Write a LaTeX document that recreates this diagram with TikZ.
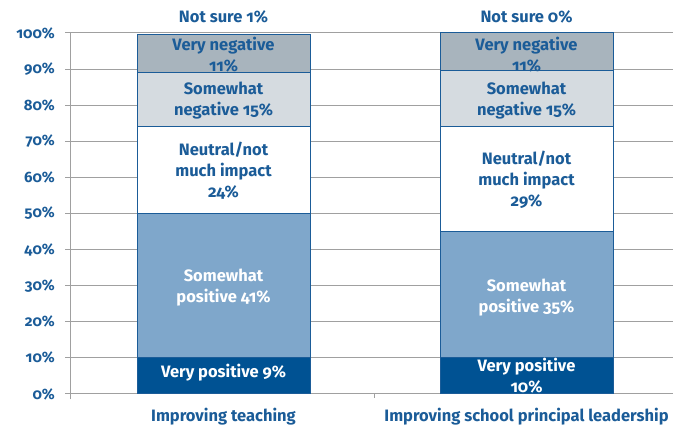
\documentclass[tikz,border=0pt]{standalone}
\usepackage{fontspec}
\setmainfont{Fira Sans}[Numbers=OldStyle]
\definecolor{vpos}{HTML}{005293}
\definecolor{spos}{HTML}{7FA7CB}
\definecolor{sneg}{HTML}{D5DBE0}
\definecolor{vneg}{HTML}{A8B4BD}
\definecolor{txtblue}{HTML}{1B5C98}
\definecolor{gridgray}{HTML}{A0A0A0}
\tikzset{
  seg/.style={draw=txtblue, line width=1pt},
  lbl/.style={text=txtblue, font=\fontsize{16.5}{21}\selectfont\bfseries, align=center, inner sep=0pt},
  wlbl/.style={lbl, text=white},
  ylbl/.style={lbl, font=\fontsize{15}{18}\selectfont\bfseries, anchor=east}
}
\begin{document}
\begin{tikzpicture}[x=1pt, y=3.61pt]
            \useasboundingbox (0,-8.59) rectangle (678,109.14);
            % grid and axis
            \foreach \v in {0,10,...,100} {
                \draw[gridgray, line width=1pt] (65,\v) -- (673,\v);
                \node[ylbl] (y\v) at (55,\v) {\v\%};
            }
            \draw[gridgray, line width=1pt] (70,-1.5) -- (70,100);
            \draw[gridgray, line width=1pt] (374,0) -- (374,-1.2);
            % bar 1
            \draw[seg, fill=vpos] (137,0) rectangle (310,10);
            \draw[seg, fill=spos] (137,10) rectangle (310,50);
            \draw[seg, fill=white] (137,50) rectangle (310,74);
            \draw[seg, fill=sneg] (137,74) rectangle (310,89);
            \draw[seg, fill=vneg] (137,89) rectangle (310,99.6);
            % bar 2
            \draw[seg, fill=vpos] (440,0) rectangle (613,10);
            \draw[seg, fill=spos] (440,10) rectangle (613,45);
            \draw[seg, fill=white] (440,45) rectangle (613,74);
            \draw[seg, fill=sneg] (440,74) rectangle (613,89.5);
            \draw[seg, fill=vneg] (440,89.5) rectangle (613,100);
            % labels
            \node[lbl] (nsA) at (223.5,104.4) {Not sure 1\%};
            \node[lbl] (vnA) at (223.5,94) {Very negative\\11\%};
            \node[lbl] (snA) at (223.5,81.2) {Somewhat\\negative 15\%};
            \node[lbl] (neA) at (223.5,61.8) {Neutral/not\\much impact\\24\%};
            \node[wlbl] (spA) at (223.5,29.4) {Somewhat\\positive 41\%};
            \node[wlbl] (vpA) at (223.5,5.8) {Very positive 9\%};
            \node[lbl] (nsB) at (526.5,104.4) {Not sure 0\%};
            \node[lbl] (vnB) at (526.5,94) {Very negative\\11\%};
            \node[lbl] (snB) at (526.5,81.2) {Somewhat\\negative 15\%};
            \node[lbl] (neB) at (526.5,59.3) {Neutral/not\\much impact\\29\%};
            \node[wlbl] (spB) at (526.5,26.7) {Somewhat\\positive 35\%};
            \node[wlbl] (vpB) at (526.5,5.1) {Very positive\\10\%};
            \node[lbl] (catA) at (223.5,-6.4) {Improving teaching};
            \node[lbl] (catB) at (526.5,-6.4) {Improving school principal leadership};
\end{tikzpicture}
\end{document}
